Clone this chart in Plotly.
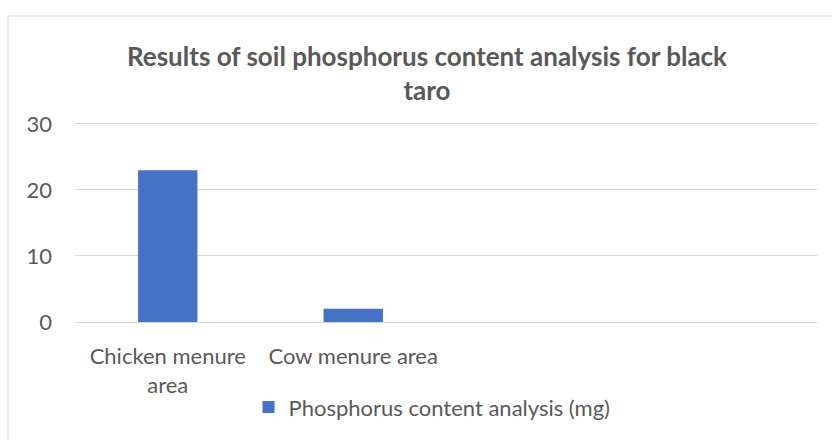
import plotly.graph_objects as go

categories = ["Chicken menure area", "Cow menure area", " ", "  "]
tick_labels = ["Chicken menure<br>area", "Cow menure area", "", ""]
phosphorus_mg = [23, 2, None, None]
series_name = "Phosphorus content analysis (mg)"
title_text = "Results of soil phosphorus content analysis for black<br>taro"

FONT = "Lato"
GREY = "#595959"

fig = go.Figure()
fig.add_trace(go.Bar(
    x=categories, y=phosphorus_mg, name=series_name,
    marker=dict(color="#4472C4", line=dict(width=0)),
    showlegend=True,
))

L, R, T, B = 75, 15, 118, 116
W, H = 832, 440
pw = W - L - R
ph = H - T - B

def px_x(px):
    return (px - L) / pw

def px_y(py):
    return (H - B - py) / ph

fig.update_layout(
    width=W, height=H,
    margin=dict(l=L, r=R, t=T, b=B, pad=0),
    paper_bgcolor="white", plot_bgcolor="white",
    font=dict(family=FONT, color=GREY, size=22),
    title=dict(text=title_text, x=px_x(427), xref="paper", xanchor="center",
               y=1 - 66 / H, yanchor="middle",
               font=dict(family=FONT, size=26, color=GREY, weight="bold")),
    bargap=0.68,
    xaxis=dict(type="category", categoryorder="array", categoryarray=categories,
               tickvals=categories, ticktext=tick_labels,
               showgrid=False, showline=False, zeroline=False, ticks="",
               ticklabelstandoff=19,
               tickfont=dict(size=22, color=GREY)),
    yaxis=dict(range=[0, 30.9], tickvals=[0, 10, 20, 30], showgrid=True, gridcolor="#d9d9d9",
               gridwidth=1, zeroline=True, zerolinecolor="#d9d9d9", zerolinewidth=1,
               showline=False, ticks="", ticklabelstandoff=22,
               tickfont=dict(size=22, color=GREY)),
    legend=dict(orientation="h", x=px_x(432), xanchor="center", xref="paper",
                y=px_y(410), yanchor="middle", font=dict(size=22, color=GREY),
                itemwidth=30),
    shapes=[dict(type="rect", xref="paper", yref="paper",
                 x0=px_x(8), x1=px_x(840), y0=px_y(450), y1=px_y(15),
                 line=dict(color="#d9d9d9", width=1), fillcolor="rgba(0,0,0,0)",
                 layer="below")],
)

fig.write_html("out.html", config={"displayModeBar": False},
               post_script="document.body.style.margin='0';document.body.style.padding='0';")
